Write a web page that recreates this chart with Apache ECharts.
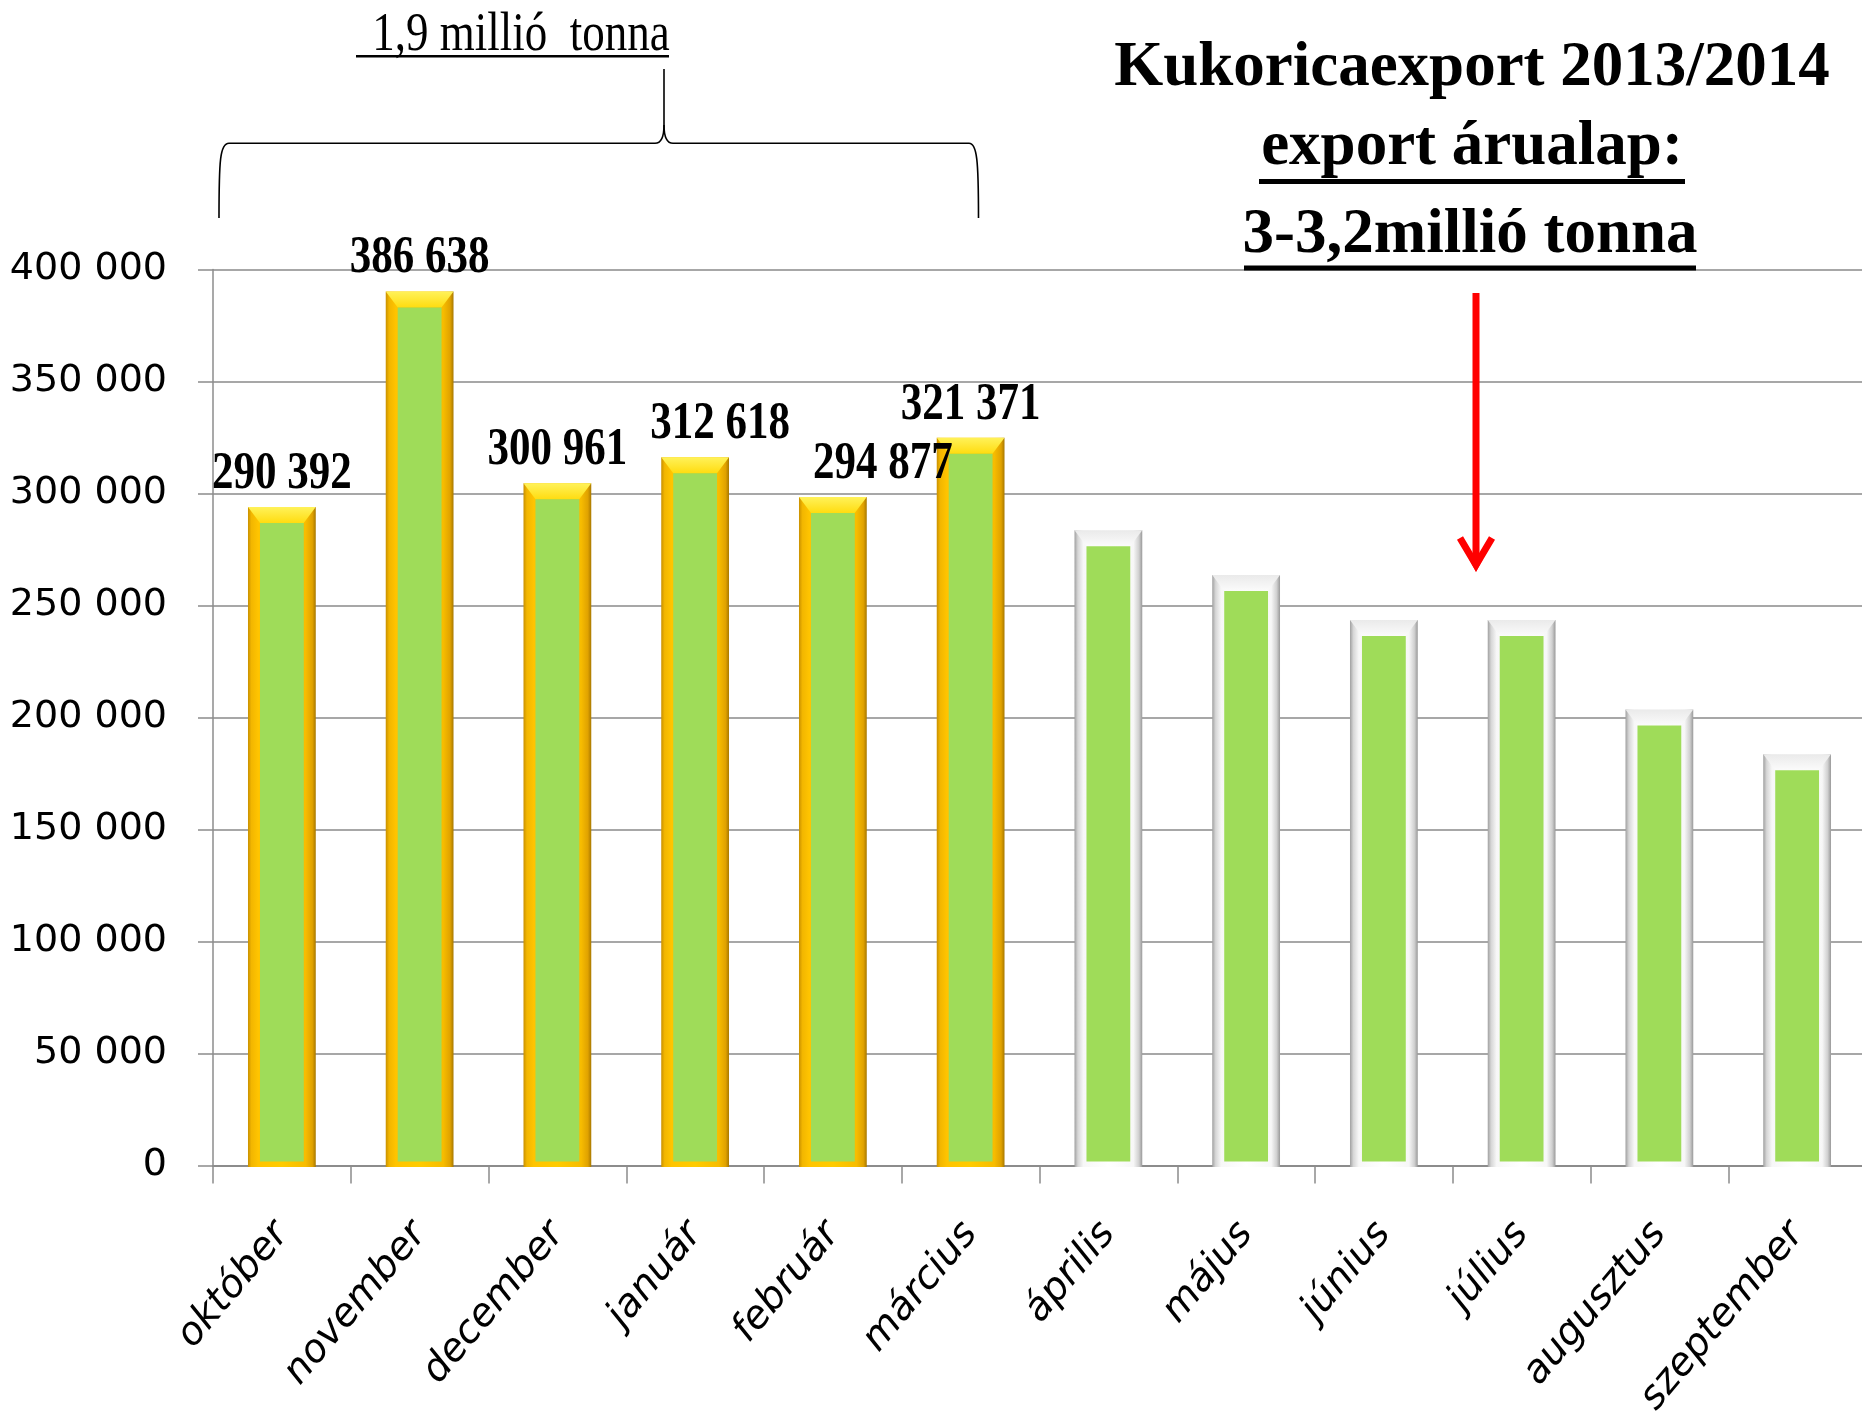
<!DOCTYPE html>
<html><head><meta charset="utf-8">
<script src="https://cdn.jsdelivr.net/npm/echarts@6/dist/echarts.min.js"></script>
<style>html,body{margin:0;padding:0;background:#fff}#c{width:1862px;height:1422px}</style>
</head><body><div id="c"></div>
<script>
// ---------- data ----------
const months = ['október','november','december','január','február','március','április','május','június','július','augusztus','szeptember'];
const actualValues = [290392, 386638, 300961, 312618, 294877, 321371];
const forecastValues = [280000, 260000, 240000, 240000, 200000, 180000];
const yMin = 0, yMax = 400000, yStep = 50000;
const titleLines = ['Kukoricaexport 2013/2014', 'export árualap:', '3-3,2millió tonna'];
const braceText = '1,9 millió  tonna';

// ---------- helpers ----------
function fmt(v){ return String(v).replace(/\B(?=(\d{3})+(?!\d))/g, ' '); }
const actualData = actualValues.map((v,i)=>[i, v]);
const forecastData = forecastValues.map((v,i)=>[i + actualValues.length, v]);
const labelShiftX = [0, 0, 0, 25, 50, 0];
const GREEN = '#9FDC59';
const LG = echarts.graphic.LinearGradient;

function makeRender(kind){
  return function(params, api){
    const i = api.value(0), v = api.value(1);
    const p = api.coord([i, v]);
    const b = api.coord([i, 0]);
    const cw = api.size([1, 0])[0];
    const ow = cw * 0.492, iw = cw * 0.318;
    const cx = p[0];
    const oT = p[1] - 8, iT = p[1] + 8, oB = b[1] + 1.5, iB = b[1] - 4;
    const oL = cx - ow/2, oR = cx + ow/2, iL = cx - iw/2, iR = cx + iw/2;
    const children = [];
    if (kind === 'gold') {
      children.push({type:'rect', shape:{x:oL, y:oT, width:ow, height:oB-oT},
        style:{fill: new LG(0,0,1,0,[{offset:0,color:'#C99000'},{offset:0.05,color:'#F2B600'},{offset:0.15,color:'#FFC400'},{offset:0.5,color:'#FFCB00'},{offset:0.85,color:'#F7BC00'},{offset:0.95,color:'#E0A200'},{offset:1,color:'#A87800'}])}});
      children.push({type:'polygon', shape:{points:[[oL,oT],[oR,oT],[iR,iT],[iL,iT]]},
        style:{fill: new LG(0,0,0,1,[{offset:0,color:'#FFF25A'},{offset:1,color:'#FFDC10'}])}});
      children.push({type:'rect', shape:{x:iL, y:iT, width:iw, height:iB-iT}, style:{fill:GREEN}});
    } else {
      children.push({type:'rect', shape:{x:oL, y:oT, width:ow, height:oB-oT},
        style:{fill: new LG(0,0,1,0,[{offset:0,color:'#A0A0A0'},{offset:0.05,color:'#D6D6D6'},{offset:0.13,color:'#F7F7F7'},{offset:0.5,color:'#FFFFFF'},{offset:0.87,color:'#F7F7F7'},{offset:0.95,color:'#D0D0D0'},{offset:1,color:'#999999'}])}});
      children.push({type:'polygon', shape:{points:[[oL,oT],[oR,oT],[iR,iT],[iL,iT]]},
        style:{fill: new LG(0,0,0,1,[{offset:0,color:'#EAEAEA'},{offset:1,color:'#FBFBFB'}])}});
      children.push({type:'rect', shape:{x:iL, y:iT, width:iw, height:iB-iT}, style:{fill:GREEN}});
    }
    return {type:'group', children};
  };
}

function renderLabel(params, api){
  const i = api.value(0), v = api.value(1);
  const p = api.coord([i, v]);
  return {type:'text', x: p[0] + (labelShiftX[i] || 0), y: p[1] - 41, scaleY: 1.25,
    style:{text: fmt(v), fontFamily:'"Liberation Serif", "Times New Roman", serif', fontWeight:'bold', fontSize:43, fill:'#000', align:'center', verticalAlign:'middle'}};
}

const braceStyle = {stroke:'#000', lineWidth:1.6, fill:null};
const chart = echarts.init(document.getElementById('c'), null, {renderer:'canvas'});
chart.setOption({
  animation: false,
  backgroundColor: '#fff',
  grid: {left: 213, top: 269.5, width: 1653, height: 896, containLabel: false, outerBoundsMode: 'none'},
  xAxis: {
    type: 'category', data: months, boundaryGap: true,
    axisLine: {show: true, lineStyle: {color: '#8C8C8C', width: 2}},
    axisTick: {show: true, length: 18, lineStyle: {color: '#8C8C8C', width: 1.5}},
    axisLabel: {interval: 0, rotate: 50, margin: 62, fontFamily: '"DejaVu Sans", Verdana, sans-serif', fontStyle: 'italic', fontSize: 39, color: '#000'},
    splitLine: {show: false}
  },
  yAxis: {
    type: 'value', min: yMin, max: yMax, interval: yStep,
    axisLine: {show: true, lineStyle: {color: '#8C8C8C', width: 1.5}},
    axisTick: {show: true, length: 15, lineStyle: {color: '#8C8C8C', width: 1.5}},
    axisLabel: {margin: 46, formatter: fmt, color: '#000', fontFamily: '"DejaVu Sans", Verdana, sans-serif', fontSize: 38},
    splitLine: {show: true, lineStyle: {color: '#8A8A8A', width: 1.5}}
  },
  series: [
    {name: 'Tény', type: 'custom', renderItem: makeRender('gold'), data: actualData, encode: {x: 0, y: 1}, clip: false, z: 3},
    {name: 'Várható', type: 'custom', renderItem: makeRender('white'), data: forecastData, encode: {x: 0, y: 1}, clip: false, z: 3},
    {name: 'Tény címke', type: 'custom', renderItem: renderLabel, data: actualData, encode: {x: 0, y: 1}, clip: false, z: 5, silent: true}
  ],
  graphic: [
    {type:'text', x:1472, y:69, z:10, style:{text:titleLines[0], fontFamily:'"Liberation Serif", serif', fontWeight:'bold', fontSize:63, fill:'#000', align:'center', verticalAlign:'middle'}},
    {type:'text', x:1472, y:148, z:10, style:{text:titleLines[1], fontFamily:'"Liberation Serif", serif', fontWeight:'bold', fontSize:63, fill:'#000', align:'center', verticalAlign:'middle'}},
    {type:'text', x:1470, y:236, z:10, style:{text:titleLines[2], fontFamily:'"Liberation Serif", serif', fontWeight:'bold', fontSize:63, fill:'#000', align:'center', verticalAlign:'middle'}},
    {type:'rect', z:10, shape:{x:1259, y:179, width:426, height:5}, style:{fill:'#000'}},
    {type:'rect', z:10, shape:{x:1244, y:265.5, width:452, height:5}, style:{fill:'#000'}},
    {type:'line', z:10, shape:{x1:1476, y1:293, x2:1476, y2:562}, style:{stroke:'#FF0000', lineWidth:7}},
    {type:'polyline', z:10, shape:{points:[[1460,538],[1476,565],[1492,538]]}, style:{stroke:'#FF0000', lineWidth:7, lineJoin:'miter', fill:null}},
    {type:'polygon', z:10, shape:{points:[[1469,559],[1476,572],[1483,559]]}, style:{fill:'#FF0000'}},
    {type:'text', x:521, y:35.5, scaleY:1.2, z:10, style:{text:braceText, fontFamily:'"Liberation Serif", serif', fontSize:45, fill:'#000', align:'center', verticalAlign:'middle'}},
    {type:'rect', z:10, shape:{x:356, y:55, width:313, height:2.5}, style:{fill:'#000'}},
    {type:'bezierCurve', z:10, shape:{x1:219, y1:218, cpx1:219, cpy1:160, cpx2:220, cpy2:143.3, x2:229, y2:143.3}, style:braceStyle},
    {type:'line', z:10, shape:{x1:229, y1:143.3, x2:655, y2:143.3}, style:braceStyle},
    {type:'bezierCurve', z:10, shape:{x1:655, y1:143.3, cpx1:661, cpy1:143.3, cpx2:664, cpy2:138, x2:664, y2:125}, style:braceStyle},
    {type:'line', z:10, shape:{x1:664, y1:125, x2:664, y2:69}, style:braceStyle},
    {type:'bezierCurve', z:10, shape:{x1:664, y1:125, cpx1:664, cpy1:138, cpx2:667, cpy2:143.3, x2:673, y2:143.3}, style:braceStyle},
    {type:'line', z:10, shape:{x1:673, y1:143.3, x2:969, y2:143.3}, style:braceStyle},
    {type:'bezierCurve', z:10, shape:{x1:969, y1:143.3, cpx1:977, cpy1:143.3, cpx2:978.5, cpy2:160, x2:978.5, y2:218}, style:braceStyle}
  ]
});
</script>
</body></html>
